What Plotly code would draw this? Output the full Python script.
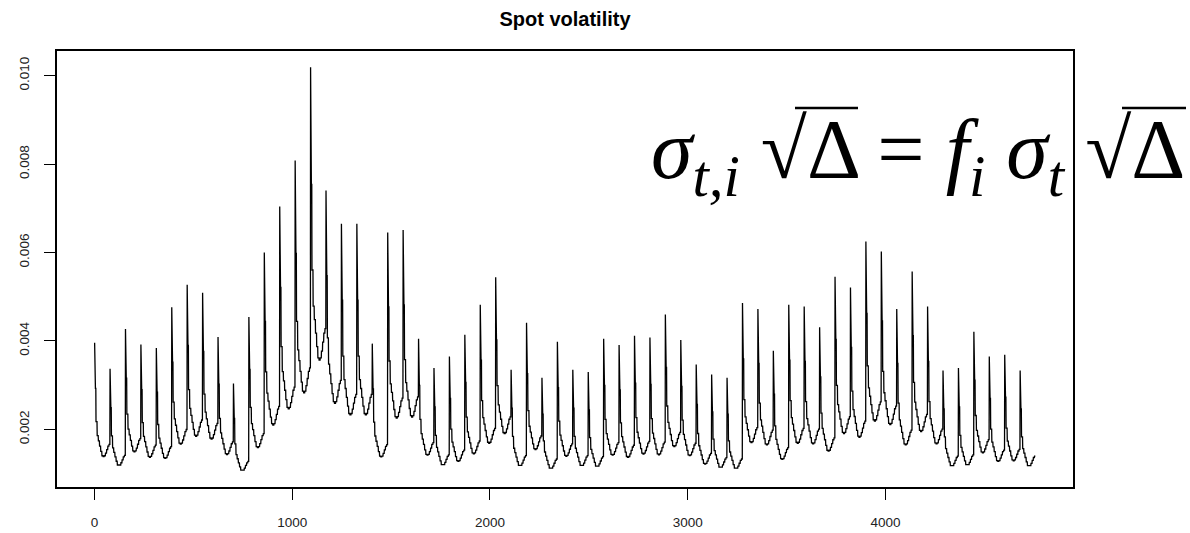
import numpy as np
import plotly.graph_objects as go

# Daily opening-spike level (value at the first interval of each of 61 days)
day_peak = [0.00396, 0.00337, 0.00427, 0.00392, 0.00384, 0.00476, 0.00527, 0.00509, 0.00409, 0.00304,
            0.00454, 0.00600, 0.00704, 0.00808, 0.01019, 0.00740, 0.00665, 0.00665, 0.00394, 0.00645,
            0.00651, 0.00405, 0.00339, 0.00365, 0.00414, 0.00482, 0.00544, 0.00335, 0.00441, 0.00317,
            0.00398, 0.00335, 0.00330, 0.00405, 0.00391, 0.00412, 0.00408, 0.00460, 0.00402, 0.00347,
            0.00324, 0.00317, 0.00486, 0.00472, 0.00378, 0.00482, 0.00478, 0.00431, 0.00545, 0.00521,
            0.00625, 0.00602, 0.00472, 0.00557, 0.00478, 0.00333, 0.00339, 0.00421, 0.00365, 0.00369,
            0.00333]

# Intraday periodicity f_i (78 intervals per day), relative to the opening value
intraday_f = [1.00,
              0.74, 0.74, 0.74, 0.74, 0.74, 0.74,
              0.55, 0.55, 0.55, 0.55, 0.55, 0.55,
              0.47, 0.47, 0.47, 0.47, 0.47, 0.47,
              0.44, 0.44, 0.44, 0.44, 0.44, 0.44,
              0.41, 0.41, 0.41, 0.41, 0.41, 0.41,
              0.38, 0.38, 0.38, 0.38, 0.38, 0.38,
              0.355, 0.355, 0.355, 0.355, 0.355, 0.355,
              0.35, 0.35, 0.35, 0.35, 0.35, 0.35,
              0.355, 0.355, 0.355, 0.355, 0.355, 0.355,
              0.37, 0.37, 0.37, 0.37, 0.37, 0.37,
              0.39, 0.39, 0.39, 0.39, 0.39, 0.39,
              0.41, 0.41, 0.41, 0.41, 0.41, 0.41,
              0.42, 0.42, 0.42, 0.42, 0.42]

x_ticks = [0, 1000, 2000, 3000, 4000]
y_ticks = [0.002, 0.004, 0.006, 0.008, 0.010]
y_tick_labels = ["0.002", "0.004", "0.006", "0.008", "0.010"]

spot = np.outer(np.array(day_peak), np.array(intraday_f)).ravel()
idx = np.arange(1, len(spot) + 1)

xr = [idx.min() - 0.04 * (idx.max() - idx.min()), idx.max() + 0.04 * (idx.max() - idx.min())]
yr = [spot.min() - 0.04 * (spot.max() - spot.min()), spot.max() + 0.04 * (spot.max() - spot.min())]

W, H = 1190, 533
ML, MR, MT, MB = 57, 117, 51, 46
PW, PH = W - ML - MR, H - MT - MB


def px(xp):
    return (xp - ML) / PW


def py(yp):
    return (H - MB - yp) / PH


fig = go.Figure()
fig.add_trace(go.Scatter(x=idx, y=spot, mode="lines",
                         line=dict(color="black", width=1.3), showlegend=False,
                         hoverinfo="x+y"))

axis_common = dict(showline=True, linecolor="black", linewidth=1.5, mirror=True,
                   showgrid=False, zeroline=False, ticks="outside", ticklen=11,
                   tickwidth=1.2, tickcolor="black", automargin=False,
                   tickfont=dict(family="Liberation Sans, Arial", size=13.5, color="#222"))

fig.update_layout(
    width=W, height=H,
    margin=dict(l=ML, r=MR, t=MT, b=MB),
    paper_bgcolor="white", plot_bgcolor="white",
    title=dict(text="<b>Spot volatility</b>", x=565 / W, xanchor="center",
               y=1 - 19 / H, yanchor="middle",
               font=dict(family="Liberation Sans, Arial", size=20, color="black")),
    xaxis=dict(range=xr, tickvals=x_ticks, ticklabelstandoff=11, **axis_common),
    yaxis=dict(range=yr, tickvals=y_ticks, ticktext=y_tick_labels, tickangle=-90,
               ticklabelstandoff=10, **axis_common),
)

formula = ("<i>σ</i><sub><i>t,i</i></sub> √Δ"
           " = <i>f</i><sub><i>i</i></sub> <i>σ</i><sub><i>t</i></sub> √Δ")
fig.add_annotation(text=formula, xref="paper", yref="paper",
                   x=px(918), y=py(156),
                   xanchor="center", yanchor="middle", showarrow=False,
                   font=dict(family="Liberation Serif, Times New Roman", size=84, color="black"))

# radical overbars
for x0, x1 in [(795, 858), (1122, 1186)]:
    fig.add_shape(type="line", xref="paper", yref="paper",
                  x0=px(x0), x1=px(x1), y0=py(108), y1=py(108),
                  line=dict(color="black", width=2.5))

fig.write_html("out.html")
